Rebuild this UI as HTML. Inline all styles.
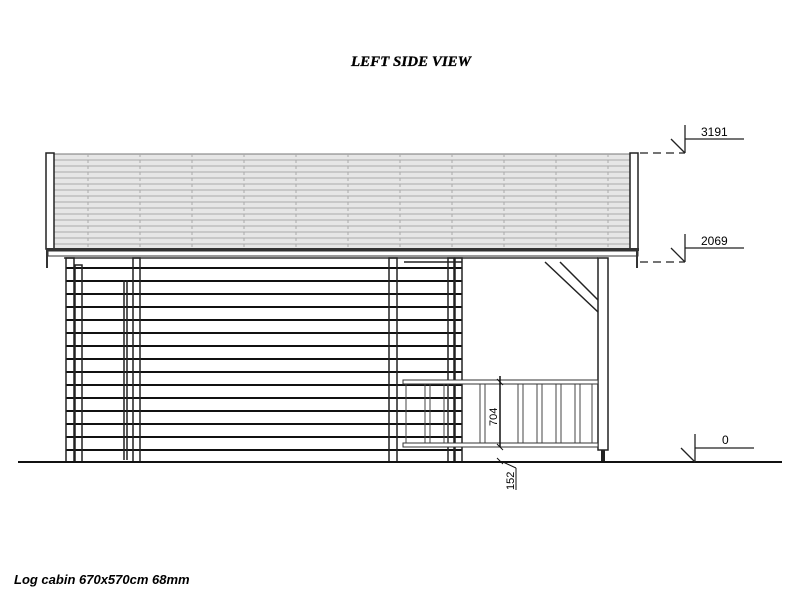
<!DOCTYPE html>
<html><head><style>body{margin:0;background:#fff}svg{display:block}</style></head><body>
<svg width="800" height="600" xmlns="http://www.w3.org/2000/svg" font-family="Liberation Sans, sans-serif">
<rect width="800" height="600" fill="#fff"/>
<text x="411" y="66" text-anchor="middle" font-family="Liberation Serif, serif" font-style="italic" font-weight="bold" font-size="15" stroke="#000" stroke-width="0.3">LEFT SIDE VIEW</text>
<!-- roof -->
<rect x="53" y="154" width="577" height="95" fill="#e6e6e6" stroke="#777" stroke-width="1"/>
<g stroke="#aaa" stroke-width="1">
<line x1="53" y1="160" x2="630" y2="160"/><line x1="53" y1="166" x2="630" y2="166"/><line x1="53" y1="172" x2="630" y2="172"/><line x1="53" y1="178" x2="630" y2="178"/><line x1="53" y1="184" x2="630" y2="184"/><line x1="53" y1="190" x2="630" y2="190"/><line x1="53" y1="196" x2="630" y2="196"/><line x1="53" y1="202" x2="630" y2="202"/><line x1="53" y1="208" x2="630" y2="208"/><line x1="53" y1="214" x2="630" y2="214"/><line x1="53" y1="220" x2="630" y2="220"/><line x1="53" y1="226" x2="630" y2="226"/><line x1="53" y1="232" x2="630" y2="232"/><line x1="53" y1="238" x2="630" y2="238"/><line x1="53" y1="244" x2="630" y2="244"/>
</g>
<g stroke="#aaa" stroke-width="1" stroke-dasharray="3,3">
<line x1="88" y1="154" x2="88" y2="249"/><line x1="140" y1="154" x2="140" y2="249"/><line x1="192" y1="154" x2="192" y2="249"/><line x1="244" y1="154" x2="244" y2="249"/><line x1="296" y1="154" x2="296" y2="249"/><line x1="348" y1="154" x2="348" y2="249"/><line x1="400" y1="154" x2="400" y2="249"/><line x1="452" y1="154" x2="452" y2="249"/><line x1="504" y1="154" x2="504" y2="249"/><line x1="556" y1="154" x2="556" y2="249"/><line x1="608" y1="154" x2="608" y2="249"/>
</g>
<rect x="46" y="153" width="8" height="96" fill="#fff" stroke="#222" stroke-width="1.5"/>
<rect x="630" y="153" width="8" height="96" fill="#fff" stroke="#222" stroke-width="1.5"/>
<rect x="46" y="248" width="593" height="3" fill="#333"/>
<rect x="48" y="251" width="590" height="5" fill="#fff" stroke="#333" stroke-width="1"/>
<line x1="47" y1="251" x2="47" y2="268" stroke="#333" stroke-width="2"/>
<line x1="637" y1="251" x2="637" y2="268" stroke="#333" stroke-width="2"/>
<line x1="64" y1="258" x2="598" y2="258" stroke="#333" stroke-width="1.5"/>
<!-- wall logs -->
<g stroke="#111" stroke-width="2">
<line x1="66" y1="268" x2="462" y2="268"/><line x1="66" y1="281" x2="462" y2="281"/><line x1="66" y1="294" x2="462" y2="294"/><line x1="66" y1="307" x2="462" y2="307"/><line x1="66" y1="320" x2="462" y2="320"/><line x1="66" y1="333" x2="462" y2="333"/><line x1="66" y1="346" x2="462" y2="346"/><line x1="66" y1="359" x2="462" y2="359"/><line x1="66" y1="372" x2="462" y2="372"/><line x1="66" y1="385" x2="462" y2="385"/><line x1="66" y1="398" x2="462" y2="398"/><line x1="66" y1="411" x2="462" y2="411"/><line x1="66" y1="424" x2="462" y2="424"/><line x1="66" y1="437" x2="462" y2="437"/><line x1="66" y1="450" x2="462" y2="450"/>
</g>
<g fill="none" stroke="#222" stroke-width="1.5">
<rect x="66" y="258" width="8" height="204"/><rect x="75" y="265" width="7" height="197"/>
<rect x="133" y="258" width="7" height="204"/>
<rect x="389" y="258" width="8" height="204"/>
<rect x="448" y="258" width="6" height="204"/><rect x="455" y="258" width="7" height="204"/>
<line x1="124" y1="280" x2="124" y2="460"/><line x1="127" y1="280" x2="127" y2="460"/>
<line x1="404" y1="262" x2="462" y2="262"/>
</g>
<!-- porch -->
<line x1="545" y1="262" x2="598" y2="312" stroke="#222" stroke-width="1.5"/>
<line x1="560" y1="262" x2="598" y2="300" stroke="#222" stroke-width="1.5"/>
<rect x="598" y="258" width="10" height="192" fill="#fff" stroke="#222" stroke-width="1.5"/>
<rect x="601" y="450" width="4" height="12" fill="#222"/>
<rect x="403" y="380" width="195" height="4" fill="#fff" stroke="#333" stroke-width="1"/>
<rect x="403" y="443" width="195" height="4" fill="#fff" stroke="#333" stroke-width="1"/>
<g stroke="#444" stroke-width="1">
<line x1="406" y1="384" x2="406" y2="443"/><line x1="425" y1="384" x2="425" y2="443"/><line x1="430" y1="384" x2="430" y2="443"/><line x1="444" y1="384" x2="444" y2="443"/><line x1="448" y1="384" x2="448" y2="443"/>
<line x1="480" y1="384" x2="480" y2="443"/><line x1="485" y1="384" x2="485" y2="443"/>
<line x1="518" y1="384" x2="518" y2="443"/><line x1="523" y1="384" x2="523" y2="443"/>
<line x1="537" y1="384" x2="537" y2="443"/><line x1="542" y1="384" x2="542" y2="443"/>
<line x1="556" y1="384" x2="556" y2="443"/><line x1="561" y1="384" x2="561" y2="443"/>
<line x1="575" y1="384" x2="575" y2="443"/><line x1="580" y1="384" x2="580" y2="443"/>
<line x1="592" y1="384" x2="592" y2="443"/>
</g>
<!-- 704 dimension -->
<line x1="500" y1="376" x2="500" y2="447" stroke="#111" stroke-width="1.5"/>
<line x1="497" y1="379" x2="503" y2="385" stroke="#111"/>
<line x1="497" y1="444" x2="503" y2="450" stroke="#111"/>
<text x="0" y="0" font-size="11" transform="translate(497,426) rotate(-90)">704</text>
<line x1="497" y1="458" x2="503" y2="464" stroke="#111"/>
<line x1="503" y1="462" x2="516" y2="468" stroke="#111"/>
<line x1="516" y1="468" x2="516" y2="490" stroke="#111"/>
<text x="0" y="0" font-size="11" transform="translate(514,490) rotate(-90)">152</text>
<!-- ground -->
<line x1="18" y1="462" x2="782" y2="462" stroke="#111" stroke-width="2"/>
<!-- level marks -->
<g stroke="#222" stroke-width="1.3" fill="none">
<line x1="640" y1="153" x2="685" y2="153" stroke-dasharray="8,5"/>
<line x1="685" y1="125" x2="685" y2="153"/><line x1="671" y1="139" x2="685" y2="153"/><line x1="685" y1="139" x2="744" y2="139"/>
<line x1="640" y1="262" x2="685" y2="262" stroke-dasharray="8,5"/>
<line x1="685" y1="234" x2="685" y2="262"/><line x1="671" y1="248" x2="685" y2="262"/><line x1="685" y1="248" x2="744" y2="248"/>
<line x1="695" y1="434" x2="695" y2="462"/><line x1="681" y1="448" x2="695" y2="462"/><line x1="695" y1="448" x2="754" y2="448"/>
</g>
<text x="701" y="136" font-size="12">3191</text>
<text x="701" y="245" font-size="12">2069</text>
<text x="722" y="444" font-size="12">0</text>
<text x="14" y="584" font-size="13" font-style="italic" font-weight="bold">Log cabin 670x570cm 68mm</text>
</svg>
</body></html>
